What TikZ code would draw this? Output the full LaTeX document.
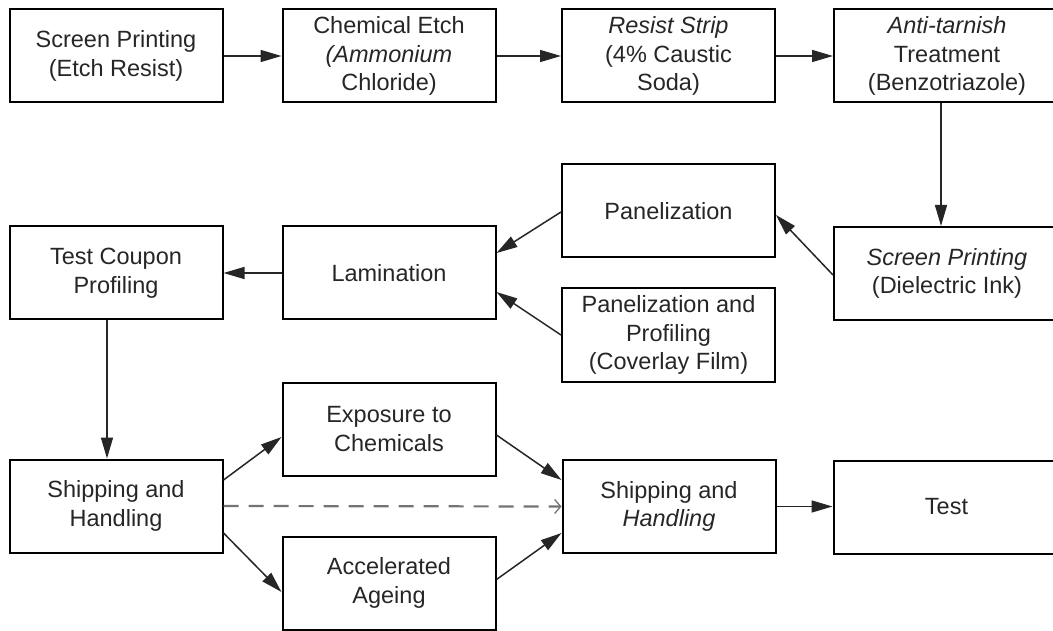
\documentclass[tikz,border=0pt]{standalone}
\usepackage{fontspec}
\setmainfont{Liberation Sans}
\usetikzlibrary{arrows.meta}
\begin{document}
\begin{tikzpicture}[x=1pt,y=-1pt,
  box/.style={draw=black, line width=2pt, rectangle, inner sep=0pt, align=center,
    minimum height=93pt, font=\fontsize{23.5}{28.5}\selectfont, text=black!85},
  wbox/.style={box, minimum width=213pt},
  rbox/.style={box, minimum width=226pt},
  arr/.style={line width=1.5pt, draw=black!85, -{Triangle[length=21pt,width=12pt]}},
  dasharr/.style={line width=2.2pt, draw=black!55, dash pattern=on 15pt off 10pt,
    -{Straight Barb[length=6pt,width=14pt,line width=1.3pt]}},
]
\useasboundingbox (0,0) rectangle (1053,631);
\clip (0,0) rectangle (1053,631);
% row 1
\node[wbox] (etch)  at (116,56)   {Screen Printing\\(Etch Resist)};
\node[wbox] (chem)  at (389,56)   {Chemical Etch\\\textit{(Ammonium}\\Chloride)};
\node[wbox] (strip) at (668.5,56) {\textit{Resist Strip}\\(4\% Caustic\\Soda)};
\node[rbox] (anti)  at (947,56)   {\textit{Anti-tarnish}\\Treatment\\(Benzotriazole)};
% row 2
\node[wbox] (panel) at (668.5,211) {Panelization};
\node[wbox] (tcp)   at (116,273)   {Test Coupon\\Profiling};
\node[wbox] (lam)   at (389,273)   {Lamination};
\node[wbox] (pprof) at (668.5,335) {Panelization and\\Profiling\\(Coverlay Film)};
\node[rbox] (diel)  at (947,273.5) {\textit{Screen Printing}\\(Dielectric Ink)};
% row 3
\node[wbox] (expo)  at (389,429)   {Exposure to\\Chemicals};
\node[wbox] (ship1) at (116,506)   {Shipping and\\Handling};
\node[wbox] (accel) at (389,583)   {Accelerated\\Ageing};
\node[wbox] (ship2) at (669,506.5) {Shipping and\\\textit{Handling}};
\node[rbox] (test)  at (946.5,507) {Test};
% connectors
\draw[arr] (etch.east) -- (chem.west);
\draw[arr] (chem.east) -- (strip.west);
\draw[arr] (strip.east) -- (anti.west);
\draw[arr] ([xshift=-6pt]anti.south) -- ([xshift=-6pt]diel.north);
\draw[arr] ([yshift=-1.5pt]diel.west) -- ([yshift=-4pt]panel.east);
\draw[arr] ([yshift=-1pt]panel.west) -- ([yshift=20pt]lam.east);
\draw[arr] (pprof.west) -- ([yshift=-19pt]lam.east);
\draw[arr] (lam.west) -- (tcp.east);
\draw[arr] ([xshift=-9pt]tcp.south) -- ([xshift=-9pt]ship1.north);
\draw[arr] ([yshift=26pt]ship1.east) -- ([yshift=-8pt]expo.west);
\draw[arr] ([yshift=-27pt]ship1.east) -- ([yshift=-9pt]accel.west);
\draw[arr] ([yshift=-6pt]expo.east) -- ([yshift=26.5pt]ship2.west);
\draw[arr] ([yshift=3.5pt]accel.east) -- ([yshift=-26.5pt]ship2.west);
\draw[dasharr] (ship1.east) -- (ship2.west);
\draw[arr] (ship2.east) -- (ship2.east -| test.west);
\end{tikzpicture}
\end{document}
